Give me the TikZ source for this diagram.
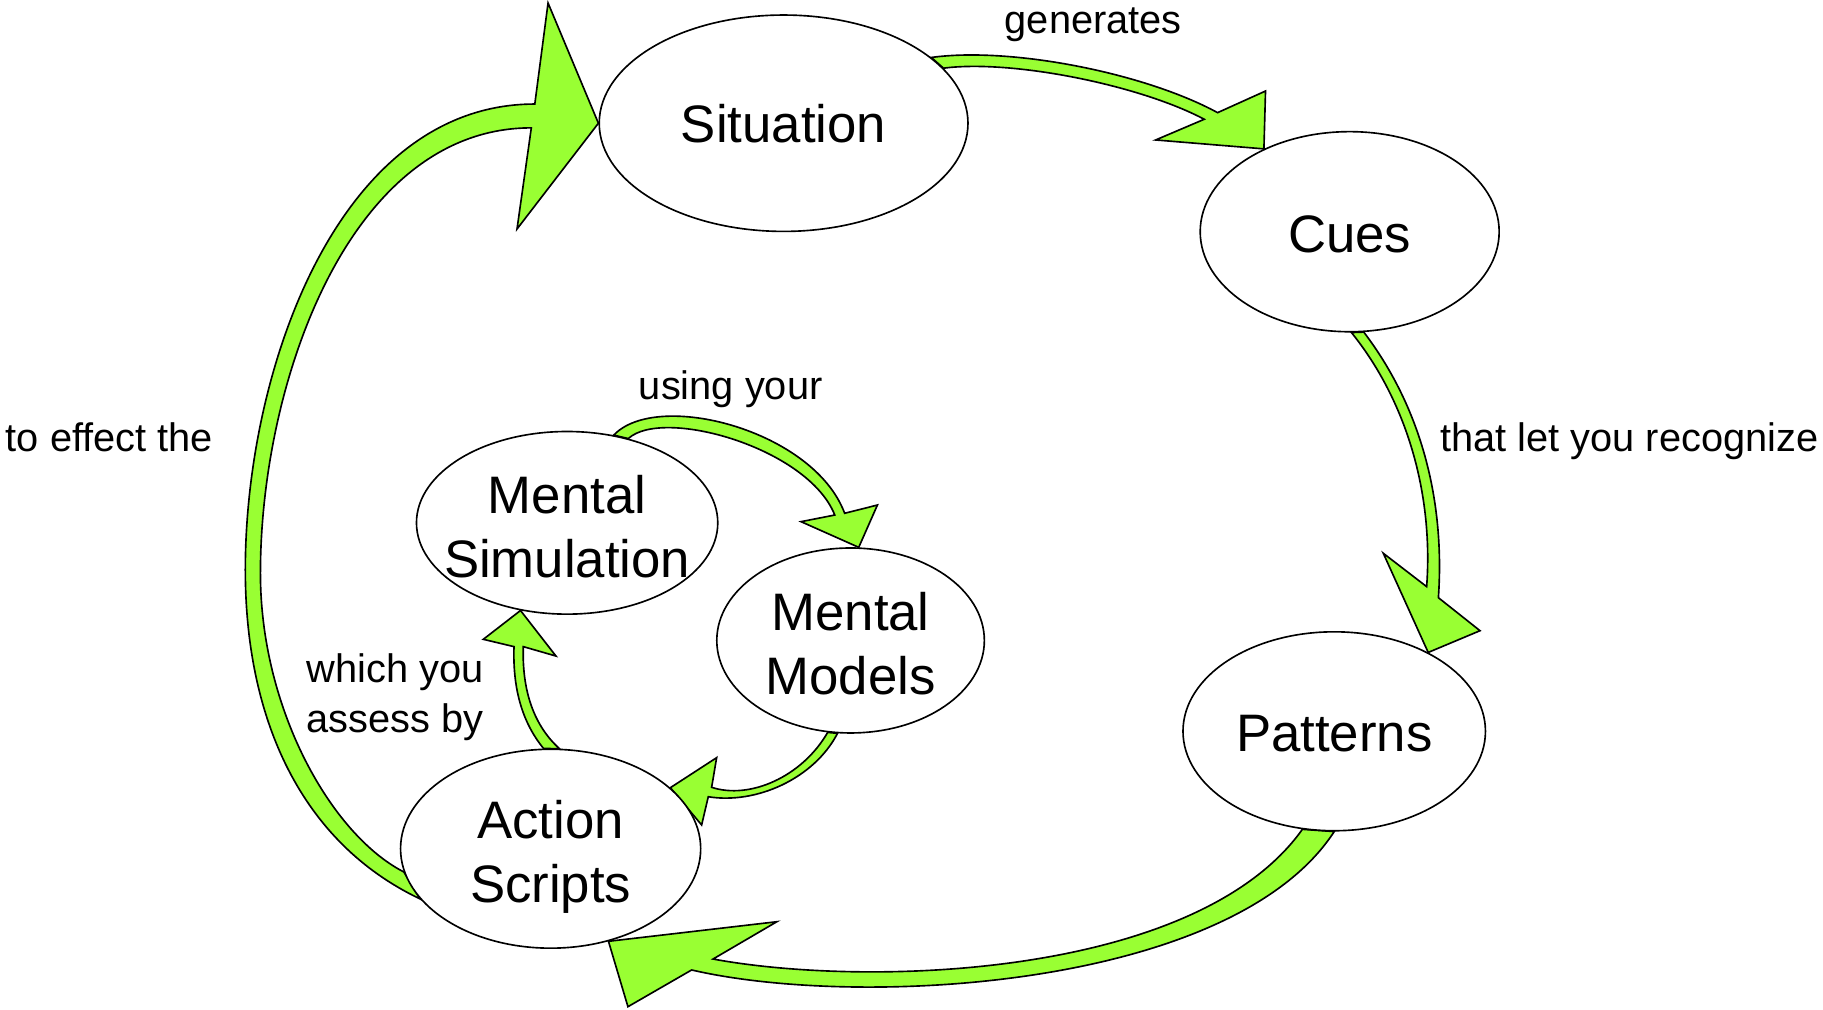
\documentclass[tikz,border=0pt]{standalone}
\usepackage{fontspec}
\setmainfont{Liberation Sans}
\usetikzlibrary{shapes.geometric,backgrounds}
\definecolor{arrowgreen}{RGB}{153,255,51}
\newcommand\statefont{\fontsize{12.9}{15.6}\selectfont}
\newcommand\lblfont{\fontsize{9.73}{12.1}\selectfont}
\tikzset{
	state/.style={ellipse, draw, fill=white, inner sep=0pt},
	statetxt/.style={align=center, inner sep=0pt, font=\statefont},
	lbl/.style={inner sep=0pt, font=\lblfont},
	flow/.style={draw, fill=arrowgreen, line join=miter},
}
\begin{document}
\begin{tikzpicture}[x=0.01cm, y=-0.01cm]
		\useasboundingbox (0,0) rectangle (1568,868.7);
		% the six states
		\node[state, minimum width=3.17cm, minimum height=1.86cm,
			label={[statetxt, name=sittxt]center:Situation}] (sit) at (674,106) {};
		\node[state, minimum width=2.57cm, minimum height=1.72cm,
			label={[statetxt, name=cuestxt, yshift=-0.02cm]center:Cues}] (cues) at (1160.9,199.3) {};
		\node[state, minimum width=2.6cm, minimum height=1.71cm,
			label={[statetxt, name=pattxt, yshift=-0.02cm]center:Patterns}] (pat) at (1147.6,629) {};
		\node[state, minimum width=2.58cm, minimum height=1.71cm,
			label={[statetxt, name=acttxt, yshift=-0.07cm]center:Action\\Scripts}] (act) at (473.6,730) {};
		\node[state, minimum width=2.59cm, minimum height=1.57cm,
			label={[statetxt, name=simtxt, yshift=-0.03cm]center:Mental\\Simulation}] (sim) at (487.8,449.7) {};
		\node[state, minimum width=2.3cm, minimum height=1.59cm,
			label={[statetxt, name=modtxt, yshift=-0.03cm]center:Mental\\Models}] (mod) at (731.6,550.9) {};
		% words along the arrows
		\node[lbl, anchor=base] (gen) at (940.4,29) {generates};
		\node[lbl, anchor=base west] (rec) at (1238,388) {that let you recognize};
		\node[lbl, anchor=base west] (eff) at (4.3,388) {to effect the};
		\node[lbl, anchor=base] (use) at (628.5,344) {using your};
		\node[lbl, anchor=west, align=left] (ass) at (263.2,599.8) {which you\\assess by};
		\begin{scope}[on background layer]
			% situation -> cues
			\filldraw[flow] (sit.24) .. controls (870,40) and (985,63) .. (1047.3,96.9)
			-- (1088.5,78.3) -- (cues.136) -- (994,120.4) -- (1035.8,102.6)
			.. controls (980,73) and (870,51) .. (sit.19) -- cycle;
			% cues -> patterns
			\filldraw[flow] (cues.271) .. controls (1210,345) and (1233,425) .. (1227.1,504.6)
			-- (1189.8,475.9) -- (pat.40) -- (1273,542.5) -- (1237.2,514.1)
			.. controls (1243,430) and (1222,350) .. (cues.278) -- cycle;
			% patterns -> action scripts
			\filldraw[flow] (pat.270) .. controls (1060,850) and (740,868) .. (594.9,834.3)
			-- (540.1,865.9) -- (act.302) -- (668.2,792.8) -- (613.3,824.9)
			.. controls (750,850) and (1030,840) .. (pat.252) -- cycle;
			% action scripts -> situation
			\filldraw[flow] (act.201) .. controls (260,725) and (211,620) .. (211,490)
			.. controls (211,320) and (290,89.5) .. (460,89.5)
			-- (471.4,2.6) -- (sit.180) -- (444.7,197) -- (457,110)
			.. controls (300,110) and (224,330) .. (224,493)
			.. controls (224,610) and (285,718) .. (act.189) -- cycle;
			% inner loop
			\filldraw[flow] (sim.62) .. controls (565,335) and (700,370) .. (726.5,441.5)
			-- (754.7,434.4) -- (mod.85) -- (689,448.7) -- (718,443)
			.. controls (695,385) and (570,350) .. (sim.54) -- cycle;
			\filldraw[flow] (mod.262) .. controls (700,670) and (650,692) .. (609.2,685.3)
			-- (603.5,709.6) -- (act.27) -- (616.4,651.7) -- (612.1,677.2)
			.. controls (645,688) and (690,668) .. (mod.256) -- cycle;
			\filldraw[flow] (act.94) .. controls (448,620) and (441,590) .. (442.1,556.2)
			-- (415.7,549.9) -- (sim.242) -- (478.2,564.3) -- (450.1,556.2)
			.. controls (449,590) and (457,622) .. (act.85) -- cycle;
		\end{scope}
\end{tikzpicture}
\end{document}
